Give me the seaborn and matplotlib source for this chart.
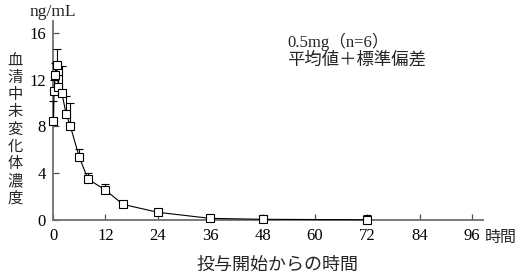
import numpy as np
import pandas as pd
import seaborn as sns
import matplotlib
matplotlib.use("Agg")
import matplotlib.pyplot as plt

# ---- data ----
time_h = [0.1, 0.25, 0.5, 0.85, 1.25, 2, 3, 4, 6, 8, 12, 16, 24, 36, 48, 72]
conc_mean = [8.5, 11.0, 12.4, 13.3, 11.4, 10.9, 9.1, 8.0, 5.4, 3.5, 2.57, 1.34, 0.66, 0.14, 0.06, 0.02]
conc_sd = [1.7, 1.0, 1.0, 1.3, 1.0, 2.3, 1.5, 2.0, 0.65, 0.5, 0.55, 0.12, 0.15, 0.1, 0.4, 0.45]
x_ticks = [0, 12, 24, 36, 48, 60, 72, 84, 96]
y_ticks = [0, 4, 8, 12, 16]

y_label = "血清中未変化体濃度"
x_label = "投与開始からの時間"
x_unit = "時間"
y_unit = "ng/mL"
note_line1 = "0.5mg（n=6）"
note_line2 = "平均値＋標準偏差"

sns.set_style("ticks")
plt.rcParams['font.family'] = ['Liberation Serif', 'Noto Sans CJK JP', 'DejaVu Sans']

W, H = 524, 276
fig = plt.figure(figsize=(W / 100, H / 100), dpi=100)
ax = fig.add_axes([53 / W, 1 - 220 / H, 430 / W, (220 - 21.3) / H])

df = pd.DataFrame({"time": time_h, "conc": conc_mean, "sd": conc_sd})

eb = ax.errorbar(df["time"], df["conc"], yerr=[np.zeros(len(df)), df["sd"]],
                 fmt='none', ecolor='black', elinewidth=0.8, capsize=3.2, capthick=0.8, zorder=2)
sns.lineplot(data=df, x="time", y="conc", ax=ax, color='black', linewidth=0.8,
             marker='s', markersize=6.2, markerfacecolor='white',
             markeredgecolor='black', markeredgewidth=0.8, zorder=3)
for art in list(ax.lines) + list(ax.collections):
    art.set_clip_on(False)

ax.set_xlim(0, 98.5)
ax.set_ylim(0, 17)
ax.set_xticks(x_ticks)
ax.set_yticks(y_ticks)
ax.set_xticklabels([str(v) for v in x_ticks], fontsize=12)
ax.set_yticklabels([str(v) for v in y_ticks], fontsize=12)
ax.set_xlabel("")
ax.set_ylabel("")

for s in ['top', 'right']:
    ax.spines[s].set_visible(False)
for s in ['left', 'bottom']:
    ax.spines[s].set_color('#707070')
    ax.spines[s].set_linewidth(1.3)
    ax.spines[s].set_zorder(1)
ax.tick_params(axis='both', direction='in', length=4, width=0.9, color='#505050', labelcolor='black')
ax.tick_params(axis='y', pad=5)
ax.tick_params(axis='x', pad=6)

jp = ['Noto Sans CJK JP', 'DejaVu Sans']

fig.text(53 / W, 1 - 12 / H, y_unit, ha='center', va='center', fontsize=12.5,
         family=['Liberation Serif', 'DejaVu Sans'])
fig.text(485 / W, 1 - 237 / H, x_unit, ha='left', va='center', fontsize=11.5, family=jp)
fig.text(277 / W, 1 - 265 / H, x_label, ha='center', va='center', fontsize=13, family=jp)
fig.text(15 / W, 1 - 129 / H, "\n".join(y_label), ha='center', va='center',
         fontsize=11, family=jp, linespacing=1.02)

fig.text(287 / W, 1 - 42 / H, note_line1, ha='left', va='center', fontsize=12,
         family=['Liberation Serif', 'Noto Sans CJK JP'])
fig.text(287 / W, 1 - 60 / H, note_line2, ha='left', va='center', fontsize=12.5, family=jp)

fig.savefig("out.png", dpi=100)
